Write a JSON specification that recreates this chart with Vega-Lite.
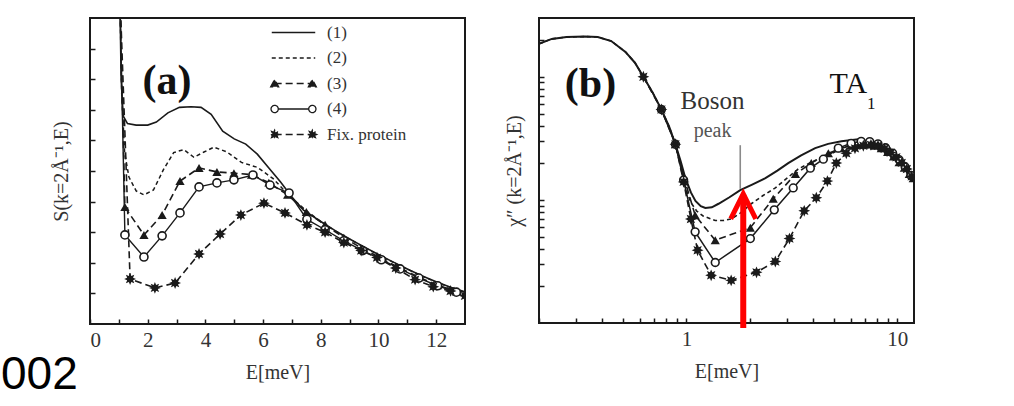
{
  "$schema": "https://vega.github.io/schema/vega-lite/v6.json",
  "background": "white",
  "padding": {"left": 0, "top": 17, "right": 0, "bottom": 0},
  "spacing": 37,
  "datasets": {
    "a": [
      {"s": "(1)", "E": 1.03, "S": 11}, {"s": "(1)", "E": 1.08, "S": 8.0}, {"s": "(1)", "E": 1.15, "S": 6.8}, {"s": "(1)", "E": 1.3, "S": 6.55}, {"s": "(1)", "E": 1.6, "S": 6.5}, {"s": "(1)", "E": 2.0, "S": 6.5}, {"s": "(1)", "E": 2.3, "S": 6.6}, {"s": "(1)", "E": 2.7, "S": 6.9}, {"s": "(1)", "E": 3.1, "S": 7.08}, {"s": "(1)", "E": 3.5, "S": 7.1}, {"s": "(1)", "E": 3.85, "S": 7.08}, {"s": "(1)", "E": 4.2, "S": 6.85}, {"s": "(1)", "E": 4.6, "S": 6.3}, {"s": "(1)", "E": 5.0, "S": 6.05}, {"s": "(1)", "E": 5.4, "S": 5.88}, {"s": "(1)", "E": 5.8, "S": 5.55}, {"s": "(1)", "E": 6.2, "S": 5.1}, {"s": "(1)", "E": 6.6, "S": 4.65}, {"s": "(1)", "E": 7.0, "S": 4.15}, {"s": "(1)", "E": 7.4, "S": 3.72}, {"s": "(1)", "E": 8.0, "S": 3.35}, {"s": "(1)", "E": 8.5, "S": 3.05}, {"s": "(1)", "E": 9.0, "S": 2.78}, {"s": "(1)", "E": 9.5, "S": 2.52}, {"s": "(1)", "E": 10.0, "S": 2.27}, {"s": "(1)", "E": 10.5, "S": 2.03}, {"s": "(1)", "E": 11.0, "S": 1.8}, {"s": "(1)", "E": 11.5, "S": 1.58}, {"s": "(1)", "E": 12.0, "S": 1.38}, {"s": "(1)", "E": 12.5, "S": 1.2}, {"s": "(1)", "E": 13.0, "S": 1.05},
      {"s": "(2)", "E": 1.03, "S": 11}, {"s": "(2)", "E": 1.1, "S": 7.5}, {"s": "(2)", "E": 1.2, "S": 5.6}, {"s": "(2)", "E": 1.35, "S": 4.8}, {"s": "(2)", "E": 1.6, "S": 4.35}, {"s": "(2)", "E": 1.87, "S": 4.22}, {"s": "(2)", "E": 2.2, "S": 4.38}, {"s": "(2)", "E": 2.55, "S": 5.05}, {"s": "(2)", "E": 2.9, "S": 5.6}, {"s": "(2)", "E": 3.25, "S": 5.7}, {"s": "(2)", "E": 3.6, "S": 5.45}, {"s": "(2)", "E": 3.95, "S": 5.62}, {"s": "(2)", "E": 4.3, "S": 5.78}, {"s": "(2)", "E": 4.75, "S": 5.62}, {"s": "(2)", "E": 5.25, "S": 5.28}, {"s": "(2)", "E": 5.8, "S": 5.12}, {"s": "(2)", "E": 6.35, "S": 4.75}, {"s": "(2)", "E": 6.9, "S": 4.2}, {"s": "(2)", "E": 7.5, "S": 3.7}, {"s": "(2)", "E": 8.0, "S": 3.35}, {"s": "(2)", "E": 8.5, "S": 3.04}, {"s": "(2)", "E": 9.0, "S": 2.77}, {"s": "(2)", "E": 9.5, "S": 2.51}, {"s": "(2)", "E": 10.0, "S": 2.26}, {"s": "(2)", "E": 10.5, "S": 2.02}, {"s": "(2)", "E": 11.0, "S": 1.79}, {"s": "(2)", "E": 11.5, "S": 1.57}, {"s": "(2)", "E": 12.0, "S": 1.37}, {"s": "(2)", "E": 12.5, "S": 1.19}, {"s": "(2)", "E": 13.0, "S": 1.03},
      {"s": "(3)", "E": 1.03, "S": 11}, {"s": "(3)", "E": 1.21, "S": 3.82}, {"s": "(3)", "E": 1.87, "S": 2.91}, {"s": "(3)", "E": 2.5, "S": 3.56}, {"s": "(3)", "E": 3.12, "S": 4.67}, {"s": "(3)", "E": 3.78, "S": 5.1}, {"s": "(3)", "E": 4.4, "S": 4.97}, {"s": "(3)", "E": 4.99, "S": 4.93}, {"s": "(3)", "E": 5.6, "S": 4.88}, {"s": "(3)", "E": 6.2, "S": 4.62}, {"s": "(3)", "E": 6.85, "S": 4.22}, {"s": "(3)", "E": 7.5, "S": 3.66}, {"s": "(3)", "E": 8.15, "S": 3.24}, {"s": "(3)", "E": 8.8, "S": 2.82}, {"s": "(3)", "E": 9.45, "S": 2.46}, {"s": "(3)", "E": 10.1, "S": 2.14}, {"s": "(3)", "E": 10.75, "S": 1.82}, {"s": "(3)", "E": 11.4, "S": 1.53}, {"s": "(3)", "E": 12.05, "S": 1.27}, {"s": "(3)", "E": 12.7, "S": 1.06},
      {"s": "(4)", "E": 1.03, "S": 11}, {"s": "(4)", "E": 1.21, "S": 2.91}, {"s": "(4)", "E": 1.87, "S": 2.19}, {"s": "(4)", "E": 2.5, "S": 2.88}, {"s": "(4)", "E": 3.12, "S": 3.63}, {"s": "(4)", "E": 3.78, "S": 4.48}, {"s": "(4)", "E": 4.4, "S": 4.61}, {"s": "(4)", "E": 4.99, "S": 4.71}, {"s": "(4)", "E": 5.65, "S": 4.87}, {"s": "(4)", "E": 6.24, "S": 4.54}, {"s": "(4)", "E": 6.9, "S": 4.28}, {"s": "(4)", "E": 7.52, "S": 3.42}, {"s": "(4)", "E": 8.15, "S": 3.08}, {"s": "(4)", "E": 8.8, "S": 2.72}, {"s": "(4)", "E": 9.45, "S": 2.4}, {"s": "(4)", "E": 10.1, "S": 2.1}, {"s": "(4)", "E": 10.75, "S": 1.8}, {"s": "(4)", "E": 11.4, "S": 1.5}, {"s": "(4)", "E": 12.05, "S": 1.25}, {"s": "(4)", "E": 12.7, "S": 1.04},
      {"s": "Fix. protein", "E": 1.03, "S": 11}, {"s": "Fix. protein", "E": 1.39, "S": 1.47}, {"s": "Fix. protein", "E": 2.25, "S": 1.18}, {"s": "Fix. protein", "E": 2.95, "S": 1.34}, {"s": "Fix. protein", "E": 3.78, "S": 2.29}, {"s": "Fix. protein", "E": 4.51, "S": 2.94}, {"s": "Fix. protein", "E": 5.23, "S": 3.56}, {"s": "Fix. protein", "E": 6.03, "S": 3.95}, {"s": "Fix. protein", "E": 6.76, "S": 3.63}, {"s": "Fix. protein", "E": 7.52, "S": 3.24}, {"s": "Fix. protein", "E": 8.15, "S": 3.0}, {"s": "Fix. protein", "E": 8.8, "S": 2.66}, {"s": "Fix. protein", "E": 9.4, "S": 2.4}, {"s": "Fix. protein", "E": 9.95, "S": 2.17}, {"s": "Fix. protein", "E": 10.6, "S": 1.83}, {"s": "Fix. protein", "E": 11.27, "S": 1.45}, {"s": "Fix. protein", "E": 11.9, "S": 1.22}, {"s": "Fix. protein", "E": 12.5, "S": 1.08}, {"s": "Fix. protein", "E": 13.0, "S": 0.92}
    ],
    "b": [
      {"s": "(1)", "E": 0.2, "X": 18.5}, {"s": "(1)", "E": 0.23, "X": 20.3}, {"s": "(1)", "E": 0.27, "X": 21}, {"s": "(1)", "E": 0.33, "X": 21.2}, {"s": "(1)", "E": 0.38, "X": 21}, {"s": "(1)", "E": 0.44, "X": 19.5}, {"s": "(1)", "E": 0.514, "X": 15.9}, {"s": "(1)", "E": 0.57, "X": 13}, {"s": "(1)", "E": 0.625, "X": 10}, {"s": "(1)", "E": 0.69, "X": 7.5}, {"s": "(1)", "E": 0.761, "X": 5.42}, {"s": "(1)", "E": 0.83, "X": 3.9}, {"s": "(1)", "E": 0.887, "X": 2.83}, {"s": "(1)", "E": 0.94, "X": 2.05}, {"s": "(1)", "E": 0.989, "X": 1.5}, {"s": "(1)", "E": 1.05, "X": 1.15}, {"s": "(1)", "E": 1.104, "X": 0.98}, {"s": "(1)", "E": 1.17, "X": 0.89}, {"s": "(1)", "E": 1.23, "X": 0.86}, {"s": "(1)", "E": 1.32, "X": 0.87}, {"s": "(1)", "E": 1.42, "X": 0.93}, {"s": "(1)", "E": 1.6, "X": 1.05}, {"s": "(1)", "E": 1.8, "X": 1.2}, {"s": "(1)", "E": 2.05, "X": 1.33}, {"s": "(1)", "E": 2.37, "X": 1.5}, {"s": "(1)", "E": 2.7, "X": 1.73}, {"s": "(1)", "E": 3.04, "X": 1.99}, {"s": "(1)", "E": 3.5, "X": 2.3}, {"s": "(1)", "E": 4.08, "X": 2.63}, {"s": "(1)", "E": 4.7, "X": 2.85}, {"s": "(1)", "E": 5.43, "X": 2.99}, {"s": "(1)", "E": 6.53, "X": 3.1}, {"s": "(1)", "E": 7.87, "X": 2.83}, {"s": "(1)", "E": 9.37, "X": 2.35}, {"s": "(1)", "E": 10.5, "X": 1.95}, {"s": "(1)", "E": 11.65, "X": 1.5},
      {"s": "(2)", "E": 0.2, "X": 18.5}, {"s": "(2)", "E": 0.23, "X": 20.3}, {"s": "(2)", "E": 0.27, "X": 21}, {"s": "(2)", "E": 0.33, "X": 21.2}, {"s": "(2)", "E": 0.38, "X": 21}, {"s": "(2)", "E": 0.44, "X": 19.5}, {"s": "(2)", "E": 0.514, "X": 15.9}, {"s": "(2)", "E": 0.57, "X": 13}, {"s": "(2)", "E": 0.625, "X": 10}, {"s": "(2)", "E": 0.69, "X": 7.5}, {"s": "(2)", "E": 0.761, "X": 5.42}, {"s": "(2)", "E": 0.83, "X": 3.9}, {"s": "(2)", "E": 0.887, "X": 2.83}, {"s": "(2)", "E": 0.94, "X": 1.9}, {"s": "(2)", "E": 0.99, "X": 1.25}, {"s": "(2)", "E": 1.05, "X": 0.95}, {"s": "(2)", "E": 1.12, "X": 0.81}, {"s": "(2)", "E": 1.2, "X": 0.74}, {"s": "(2)", "E": 1.37, "X": 0.68}, {"s": "(2)", "E": 1.5, "X": 0.68}, {"s": "(2)", "E": 1.63, "X": 0.7}, {"s": "(2)", "E": 1.8, "X": 0.78}, {"s": "(2)", "E": 2.03, "X": 0.93}, {"s": "(2)", "E": 2.3, "X": 1.08}, {"s": "(2)", "E": 2.64, "X": 1.25}, {"s": "(2)", "E": 3.0, "X": 1.5}, {"s": "(2)", "E": 3.39, "X": 1.78}, {"s": "(2)", "E": 3.9, "X": 2.02}, {"s": "(2)", "E": 4.56, "X": 2.26}, {"s": "(2)", "E": 5.2, "X": 2.5}, {"s": "(2)", "E": 5.86, "X": 2.75}, {"s": "(2)", "E": 6.53, "X": 2.9}, {"s": "(2)", "E": 7.3, "X": 2.95}, {"s": "(2)", "E": 8.3, "X": 2.8}, {"s": "(2)", "E": 9.37, "X": 2.4}, {"s": "(2)", "E": 10.5, "X": 1.98}, {"s": "(2)", "E": 11.65, "X": 1.52},
      {"s": "(3)", "E": 0.887, "X": 2.83}, {"s": "(3)", "E": 0.97, "X": 1.55}, {"s": "(3)", "E": 1.1, "X": 0.75}, {"s": "(3)", "E": 1.37, "X": 0.47}, {"s": "(3)", "E": 2.01, "X": 0.595}, {"s": "(3)", "E": 2.58, "X": 1.02}, {"s": "(3)", "E": 3.29, "X": 1.62}, {"s": "(3)", "E": 3.91, "X": 1.99}, {"s": "(3)", "E": 4.71, "X": 2.39}, {"s": "(3)", "E": 5.4, "X": 2.62}, {"s": "(3)", "E": 6.0, "X": 2.75}, {"s": "(3)", "E": 6.6, "X": 2.82}, {"s": "(3)", "E": 7.2, "X": 2.82}, {"s": "(3)", "E": 7.8, "X": 2.75}, {"s": "(3)", "E": 8.4, "X": 2.62}, {"s": "(3)", "E": 9.0, "X": 2.45}, {"s": "(3)", "E": 9.6, "X": 2.25}, {"s": "(3)", "E": 10.2, "X": 2.02}, {"s": "(3)", "E": 10.8, "X": 1.82}, {"s": "(3)", "E": 11.4, "X": 1.62}, {"s": "(3)", "E": 11.9, "X": 1.5},
      {"s": "(4)", "E": 0.761, "X": 5.42}, {"s": "(4)", "E": 0.887, "X": 2.83}, {"s": "(4)", "E": 0.97, "X": 1.45}, {"s": "(4)", "E": 1.1, "X": 0.55}, {"s": "(4)", "E": 1.37, "X": 0.31}, {"s": "(4)", "E": 2.01, "X": 0.485}, {"s": "(4)", "E": 2.61, "X": 0.83}, {"s": "(4)", "E": 3.21, "X": 1.25}, {"s": "(4)", "E": 3.87, "X": 1.81}, {"s": "(4)", "E": 4.46, "X": 2.14}, {"s": "(4)", "E": 5.25, "X": 2.63}, {"s": "(4)", "E": 6.04, "X": 2.88}, {"s": "(4)", "E": 6.74, "X": 2.99}, {"s": "(4)", "E": 7.4, "X": 2.97}, {"s": "(4)", "E": 8.1, "X": 2.85}, {"s": "(4)", "E": 8.8, "X": 2.65}, {"s": "(4)", "E": 9.5, "X": 2.4}, {"s": "(4)", "E": 10.2, "X": 2.12}, {"s": "(4)", "E": 10.9, "X": 1.85}, {"s": "(4)", "E": 11.6, "X": 1.58},
      {"s": "Fix. protein", "E": 0.625, "X": 10}, {"s": "Fix. protein", "E": 0.761, "X": 5.42}, {"s": "Fix. protein", "E": 0.887, "X": 2.83}, {"s": "Fix. protein", "E": 0.97, "X": 1.4}, {"s": "Fix. protein", "E": 1.05, "X": 0.7}, {"s": "Fix. protein", "E": 1.13, "X": 0.39}, {"s": "Fix. protein", "E": 1.31, "X": 0.244}, {"s": "Fix. protein", "E": 1.63, "X": 0.222}, {"s": "Fix. protein", "E": 2.15, "X": 0.258}, {"s": "Fix. protein", "E": 2.64, "X": 0.316}, {"s": "Fix. protein", "E": 3.08, "X": 0.485}, {"s": "Fix. protein", "E": 3.62, "X": 0.815}, {"s": "Fix. protein", "E": 4.13, "X": 1.04}, {"s": "Fix. protein", "E": 4.66, "X": 1.42}, {"s": "Fix. protein", "E": 5.14, "X": 1.99}, {"s": "Fix. protein", "E": 5.73, "X": 2.39}, {"s": "Fix. protein", "E": 6.3, "X": 2.62}, {"s": "Fix. protein", "E": 6.9, "X": 2.75}, {"s": "Fix. protein", "E": 7.5, "X": 2.8}, {"s": "Fix. protein", "E": 8.1, "X": 2.75}, {"s": "Fix. protein", "E": 8.7, "X": 2.6}, {"s": "Fix. protein", "E": 9.3, "X": 2.42}, {"s": "Fix. protein", "E": 9.9, "X": 2.22}, {"s": "Fix. protein", "E": 10.5, "X": 2.0}, {"s": "Fix. protein", "E": 11.1, "X": 1.78}, {"s": "Fix. protein", "E": 11.7, "X": 1.55}
    ]
  },
  "resolve": {
    "scale": {"strokeDash": "independent", "shape": "independent", "fill": "independent", "stroke": "independent"},
    "legend": {"strokeDash": "independent", "shape": "independent", "fill": "independent", "stroke": "independent"}
  },
  "hconcat": [
    {
      "width": 375,
      "height": 306,
      "encoding": {
        "x": {"field": "E", "type": "quantitative", "scale": {"domain": [0, 13], "nice": false, "zero": false},
          "axis": {"title": "E[meV]", "values": [0, 1, 2, 3, 4, 5, 6, 7, 8, 9, 10, 11, 12], "labelExpr": "datum.value % 2 === 0 ? datum.label : ''", "labelPadding": 10, "titlePadding": 12}},
        "y": {"field": "S", "type": "quantitative", "scale": {"domain": [0, 10], "nice": false, "zero": false},
          "axis": {"title": "S(k=2Å⁻¹,E)", "values": [1, 2, 3, 4, 5, 6, 7, 8, 9], "labels": false, "titlePadding": 18}}
      },
      "layer": [
        {
          "data": {"name": "a"},
          "transform": [{"filter": "datum.s === '(1)'"}],
          "mark": {"type": "line", "clip": true, "strokeWidth": 1.6, "color": "#1a1a1a"}
        },
        {
          "data": {"name": "a"},
          "transform": [{"filter": "datum.s === '(2)'"}],
          "mark": {"type": "line", "clip": true, "strokeWidth": 1.5, "color": "#1a1a1a", "strokeDash": [4, 3]}
        },
        {
          "data": {"name": "a"},
          "transform": [{"filter": "datum.s === '(3)'"}],
          "mark": {"type": "line", "clip": true, "strokeWidth": 1.6, "color": "#1a1a1a", "strokeDash": [7, 4]}
        },
        {
          "data": {"name": "a"},
          "transform": [{"filter": "datum.s === '(4)'"}],
          "mark": {"type": "line", "clip": true, "strokeWidth": 1.4, "color": "#1a1a1a"}
        },
        {
          "data": {"name": "a"},
          "transform": [{"filter": "datum.s === 'Fix. protein'"}],
          "mark": {"type": "line", "clip": true, "strokeWidth": 1.6, "color": "#1a1a1a", "strokeDash": [7, 4]}
        },
        {
          "data": {"name": "a"},
          "transform": [{"filter": "datum.s === '(3)'"}],
          "mark": {"type": "point", "clip": true, "shape": "triangle-up", "filled": true, "size": 85, "color": "#1a1a1a", "opacity": 1}
        },
        {
          "data": {"name": "a"},
          "transform": [{"filter": "datum.s === '(4)'"}],
          "mark": {"type": "point", "clip": true, "shape": "circle", "filled": true, "fill": "white", "stroke": "#1a1a1a", "strokeWidth": 1.6, "size": 65, "opacity": 1}
        },
        {
          "data": {"name": "a"},
          "transform": [{"filter": "datum.s === 'Fix. protein'"}],
          "mark": {"type": "point", "clip": true, "filled": true, "size": 140, "color": "#1a1a1a", "opacity": 1,
            "shape": "M1,0L0.5,0.207L0.707,0.707L0.207,0.5L0,1L-0.207,0.5L-0.707,0.707L-0.5,0.207L-1,0L-0.5,-0.207L-0.707,-0.707L-0.207,-0.5L0,-1L0.207,-0.5L0.707,-0.707L0.5,-0.207Z"}
        },
        {
          "data": {"name": "a"},
          "transform": [{"filter": "false"}],
          "mark": {"type": "point", "filled": true, "opacity": 1, "strokeWidth": 1.3},
          "encoding": {
            "shape": {"field": "s", "type": "nominal",
              "scale": {"domain": ["(1)", "(2)", "(3)", "(4)", "Fix. protein"],
                "range": [
                  "M-3,0L3,0",
                  "M-3,0L3,0",
                  "M-2.6,0L2.6,0M-3.15,0.45L-2.6,-0.55L-2.05,0.45ZM2.05,0.45L2.6,-0.55L3.15,0.45Z",
                  "M-2.1,0L2.1,0M-3.1,0A0.5,0.5,0,1,0,-2.1,0A0.5,0.5,0,1,0,-3.1,0ZM2.1,0A0.5,0.5,0,1,0,3.1,0A0.5,0.5,0,1,0,2.1,0Z",
                  "M-2.6,0L2.6,0M-2,0L-2.3,0.124L-2.176,0.424L-2.476,0.3L-2.6,0.6L-2.724,0.3L-3.024,0.424L-2.9,0.124L-3.2,0L-2.9,-0.124L-3.024,-0.424L-2.724,-0.3L-2.6,-0.6L-2.476,-0.3L-2.176,-0.424L-2.3,-0.124ZM3.2,0L2.9,0.124L3.024,0.424L2.724,0.3L2.6,0.6L2.476,0.3L2.176,0.424L2.3,0.124L2,0L2.3,-0.124L2.176,-0.424L2.476,-0.3L2.6,-0.6L2.724,-0.3L3.024,-0.424L2.9,-0.124Z"
                ]},
              "legend": {"title": null, "orient": "none", "legendX": 195, "legendY": 6, "padding": 0, "labelFont": "Liberation Serif", "labelFontSize": 17, "labelColor": "#333", "symbolStrokeColor": "#1a1a1a", "symbolStrokeWidth": 1.3, "symbolSize": 210, "rowPadding": 7.5, "labelOffset": 25}},
            "strokeDash": {"field": "s", "type": "nominal",
              "scale": {"domain": ["(1)", "(2)", "(3)", "(4)", "Fix. protein"], "range": [[1, 0], [4, 3], [7, 4], [1, 0], [7, 4]]},
              "legend": {"title": null, "orient": "none", "legendX": 195, "legendY": 6, "padding": 0, "labelFont": "Liberation Serif", "labelFontSize": 17, "labelColor": "#333", "symbolStrokeColor": "#1a1a1a", "symbolStrokeWidth": 1.3, "symbolSize": 210, "rowPadding": 7.5, "labelOffset": 25}},
            "fill": {"field": "s", "type": "nominal",
              "scale": {"domain": ["(1)", "(2)", "(3)", "(4)", "Fix. protein"], "range": ["#1a1a1a", "#1a1a1a", "#1a1a1a", "white", "#1a1a1a"]},
              "legend": {"title": null, "orient": "none", "legendX": 195, "legendY": 6, "padding": 0, "labelFont": "Liberation Serif", "labelFontSize": 17, "labelColor": "#333", "symbolStrokeColor": "#1a1a1a", "symbolStrokeWidth": 1.3, "symbolSize": 210, "rowPadding": 7.5, "labelOffset": 25}},
            "stroke": {"field": "s", "type": "nominal",
              "scale": {"domain": ["(1)", "(2)", "(3)", "(4)", "Fix. protein"], "range": ["#1a1a1a", "#1a1a1a", "#1a1a1a", "#1a1a1a", "#1a1a1a"]},
              "legend": {"title": null, "orient": "none", "legendX": 195, "legendY": 6, "padding": 0, "labelFont": "Liberation Serif", "labelFontSize": 17, "labelColor": "#333", "symbolStrokeColor": "#1a1a1a", "symbolStrokeWidth": 1.3, "symbolSize": 210, "rowPadding": 7.5, "labelOffset": 25}}
          }
        },
        {
          "data": {"values": [{"t": "(a)", "E": 2.67, "S": 7.95}]},
          "mark": {"type": "text", "font": "Liberation Serif", "fontSize": 42, "fontWeight": "bold", "color": "#111", "align": "center", "baseline": "middle"},
          "encoding": {"text": {"field": "t"}}
        },
        {
          "data": {"values": [{"t": "002", "E": -3.085, "S": -1.67}]},
          "mark": {"type": "text", "font": "Liberation Sans", "fontSize": 46, "color": "#000", "align": "left", "baseline": "middle"},
          "encoding": {"text": {"field": "t"}}
        }
      ]
    },
    {
      "width": 375,
      "height": 305,
      "encoding": {
        "x": {"field": "E", "type": "quantitative", "scale": {"type": "log", "domain": [0.2, 12], "nice": false},
          "axis": {"title": "E[meV]", "values": [0.2, 0.3, 0.4, 0.5, 0.6, 0.7, 0.8, 0.9, 1, 2, 3, 4, 5, 6, 7, 8, 9, 10], "labelExpr": "abs(datum.value - 1) < 1e-9 ? '1' : (abs(datum.value - 10) < 1e-9 ? '10' : '')", "labelPadding": 10, "titlePadding": 12}},
        "y": {"field": "X", "type": "quantitative", "scale": {"type": "log", "domain": [0.1, 30], "nice": false},
          "axis": {"title": "χ″ (k=2Å⁻¹,E)", "values": [0.2, 0.3, 0.4, 0.5, 0.6, 0.7, 0.8, 0.9, 1, 2, 3, 4, 5, 6, 7, 8, 9, 10, 20], "labels": false, "titlePadding": 14}}
      },
      "layer": [
        {
          "data": {"name": "b"},
          "transform": [{"filter": "datum.s === '(1)'"}],
          "mark": {"type": "line", "clip": true, "strokeWidth": 2, "color": "#1a1a1a"}
        },
        {
          "data": {"name": "b"},
          "transform": [{"filter": "datum.s === '(2)'"}],
          "mark": {"type": "line", "clip": true, "strokeWidth": 1.6, "color": "#1a1a1a", "strokeDash": [4, 3]}
        },
        {
          "data": {"name": "b"},
          "transform": [{"filter": "datum.s === '(3)'"}],
          "mark": {"type": "line", "clip": true, "strokeWidth": 1.6, "color": "#1a1a1a", "strokeDash": [7, 4]}
        },
        {
          "data": {"name": "b"},
          "transform": [{"filter": "datum.s === '(4)'"}],
          "mark": {"type": "line", "clip": true, "strokeWidth": 1.5, "color": "#1a1a1a"}
        },
        {
          "data": {"name": "b"},
          "transform": [{"filter": "datum.s === 'Fix. protein'"}],
          "mark": {"type": "line", "clip": true, "strokeWidth": 1.6, "color": "#1a1a1a", "strokeDash": [7, 4]}
        },
        {
          "data": {"name": "b"},
          "transform": [{"filter": "datum.s === '(3)'"}],
          "mark": {"type": "point", "clip": true, "shape": "triangle-up", "filled": true, "size": 85, "color": "#1a1a1a", "opacity": 1}
        },
        {
          "data": {"name": "b"},
          "transform": [{"filter": "datum.s === '(4)'"}],
          "mark": {"type": "point", "clip": true, "shape": "circle", "filled": true, "fill": "white", "stroke": "#1a1a1a", "strokeWidth": 1.6, "size": 60, "opacity": 1}
        },
        {
          "data": {"name": "b"},
          "transform": [{"filter": "datum.s === 'Fix. protein'"}],
          "mark": {"type": "point", "clip": true, "filled": true, "size": 140, "color": "#1a1a1a", "opacity": 1,
            "shape": "M1,0L0.5,0.207L0.707,0.707L0.207,0.5L0,1L-0.207,0.5L-0.707,0.707L-0.5,0.207L-1,0L-0.5,-0.207L-0.707,-0.707L-0.207,-0.5L0,-1L0.207,-0.5L0.707,-0.707L0.5,-0.207Z"}
        },
        {
          "data": {"values": [{"E": 1.8, "lo": 1.23, "hi": 2.78}]},
          "mark": {"type": "rule", "color": "#8a8a8a", "strokeWidth": 1.6},
          "encoding": {"y": {"field": "lo", "type": "quantitative"}, "y2": {"field": "hi"}}
        },
        {
          "data": {"values": [{"E": 1.86, "lo": 0.091, "hi": 1.1}]},
          "mark": {"type": "rule", "color": "#ff0000", "strokeWidth": 6, "clip": false},
          "encoding": {"y": {"field": "lo", "type": "quantitative"}, "y2": {"field": "hi"}}
        },
        {
          "data": {"values": [{"E": 1.86, "X": 1.118}]},
          "mark": {"type": "point", "filled": false, "stroke": "#ff0000", "strokeWidth": 5, "strokeJoin": "miter", "strokeCap": "butt", "size": 625, "opacity": 1, "shape": "M-1,2L0,0L1,2"}
        },
        {
          "data": {"values": [{"t": "(b)", "E": 0.351, "X": 8.78}]},
          "mark": {"type": "text", "font": "Liberation Serif", "fontSize": 42, "fontWeight": "bold", "color": "#111", "align": "center", "baseline": "middle"},
          "encoding": {"text": {"field": "t"}}
        },
        {
          "data": {"values": [{"t": "Boson", "E": 1.33, "X": 6.4}]},
          "mark": {"type": "text", "font": "Liberation Serif", "fontSize": 25, "color": "#333", "align": "center", "baseline": "middle"},
          "encoding": {"text": {"field": "t"}}
        },
        {
          "data": {"values": [{"t": "peak", "E": 1.33, "X": 3.6}]},
          "mark": {"type": "text", "font": "Liberation Serif", "fontSize": 20, "color": "#555", "align": "center", "baseline": "middle"},
          "encoding": {"text": {"field": "t"}}
        },
        {
          "data": {"values": [{"t": "TA", "E": 5.86, "X": 8.78}]},
          "mark": {"type": "text", "font": "Liberation Serif", "fontSize": 30, "color": "#111", "align": "center", "baseline": "middle"},
          "encoding": {"text": {"field": "t"}}
        },
        {
          "data": {"values": [{"t": "1", "E": 7.53, "X": 6.06}]},
          "mark": {"type": "text", "font": "Liberation Serif", "fontSize": 17, "color": "#111", "align": "center", "baseline": "middle"},
          "encoding": {"text": {"field": "t"}}
        }
      ]
    }
  ],
  "config": {
    "view": {"stroke": "#1a1a1a", "strokeWidth": 2},
    "axis": {"labelFont": "Liberation Serif", "titleFont": "Liberation Serif", "labelFontSize": 21, "titleFontSize": 20, "labelColor": "#333", "titleColor": "#333", "titleFontWeight": "normal", "tickColor": "#1a1a1a", "tickWidth": 1.5, "tickSize": -5, "domain": false, "grid": false}
  }
}
